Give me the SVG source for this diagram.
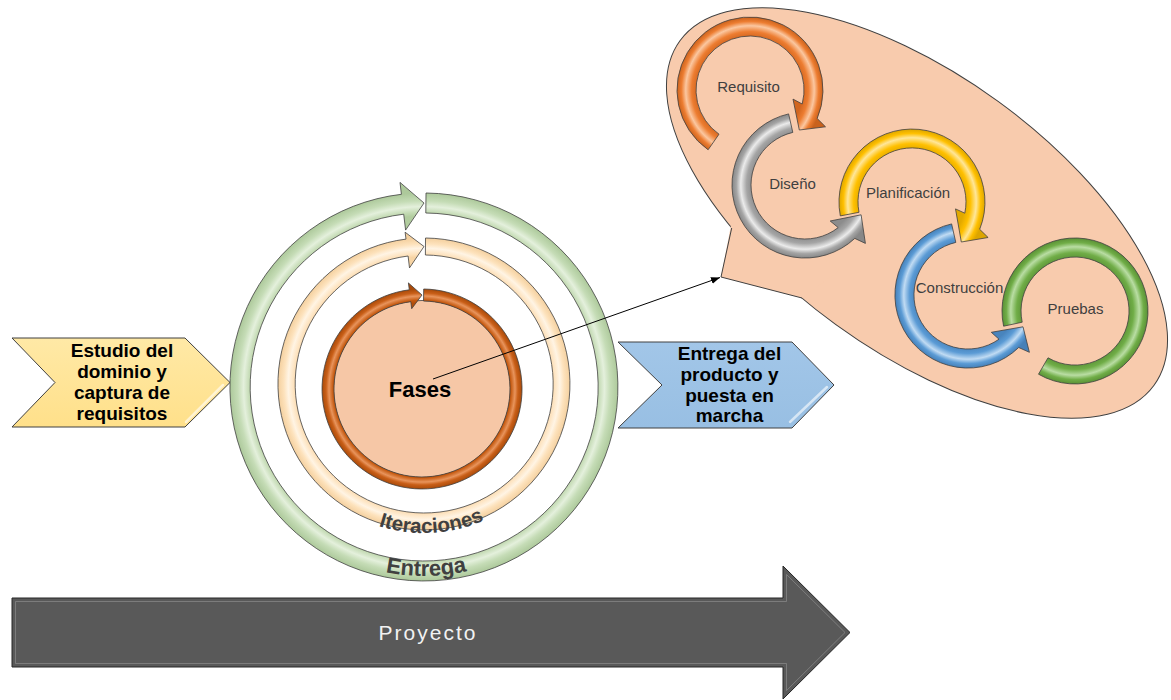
<svg xmlns="http://www.w3.org/2000/svg" width="1171" height="700" viewBox="0 0 1171 700">
<style>
  text { font-family: "Liberation Sans", Arial, sans-serif; }
  .ring { stroke: #404040; stroke-width: 0.8; stroke-linejoin: round; }
  .cyc { font-size: 15px; fill: #3f3f3f; text-anchor: middle; }
  .chev { font-size: 19px; font-weight: bold; fill: #000; text-anchor: middle; }
  .arcTxt { font-weight: bold; fill: #404040; text-anchor: middle; }
  .shape { stroke: #404040; stroke-width: 1; stroke-linejoin: miter; }
  .gloss { stroke: #ffffff; stroke-width: 2.5; stroke-linecap: round; opacity: 0.6; fill: none; }
</style>
<defs>
  <radialGradient id="gGreenBig" gradientUnits="userSpaceOnUse" cx="424" cy="387" r="194">
    <stop offset="0.88" stop-color="#b2cd9f"/>
    <stop offset="0.90" stop-color="#c3dab3"/>
    <stop offset="0.93" stop-color="#e4f0dc"/>
    <stop offset="0.96" stop-color="#c5dcb6"/>
    <stop offset="1" stop-color="#adc99b"/>
  </radialGradient>
  <radialGradient id="gPeach" gradientUnits="userSpaceOnUse" cx="424" cy="384" r="146">
    <stop offset="0.87" stop-color="#f7d4a4"/>
    <stop offset="0.89" stop-color="#fde1bb"/>
    <stop offset="0.93" stop-color="#fff4e4"/>
    <stop offset="0.96" stop-color="#fde2bc"/>
    <stop offset="1" stop-color="#f4d09f"/>
  </radialGradient>
  <radialGradient id="gOrangeBig" gradientUnits="userSpaceOnUse" cx="422" cy="389" r="100">
    <stop offset="0.86" stop-color="#b04e0c"/>
    <stop offset="0.89" stop-color="#c55a11"/>
    <stop offset="0.93" stop-color="#e8945c"/>
    <stop offset="0.96" stop-color="#c95f18"/>
    <stop offset="1" stop-color="#a84a0a"/>
  </radialGradient>
  <radialGradient id="gReq" gradientUnits="userSpaceOnUse" cx="750" cy="90" r="73">
    <stop offset="0.72" stop-color="#d1651f"/>
    <stop offset="0.80" stop-color="#ed7d31"/>
    <stop offset="0.88" stop-color="#fbc7a0"/>
    <stop offset="0.94" stop-color="#ed7d31"/>
    <stop offset="1" stop-color="#c9621d"/>
  </radialGradient>
  <radialGradient id="gDis" gradientUnits="userSpaceOnUse" cx="805" cy="185" r="73">
    <stop offset="0.72" stop-color="#8c8c8c"/>
    <stop offset="0.80" stop-color="#a5a5a5"/>
    <stop offset="0.88" stop-color="#ebebeb"/>
    <stop offset="0.94" stop-color="#a5a5a5"/>
    <stop offset="1" stop-color="#878787"/>
  </radialGradient>
  <radialGradient id="gPlan" gradientUnits="userSpaceOnUse" cx="912" cy="202" r="73">
    <stop offset="0.72" stop-color="#e2a900"/>
    <stop offset="0.80" stop-color="#ffc000"/>
    <stop offset="0.88" stop-color="#ffe699"/>
    <stop offset="0.94" stop-color="#ffc000"/>
    <stop offset="1" stop-color="#dca500"/>
  </radialGradient>
  <radialGradient id="gCons" gradientUnits="userSpaceOnUse" cx="968" cy="295" r="73">
    <stop offset="0.72" stop-color="#4884bd"/>
    <stop offset="0.80" stop-color="#5b9bd5"/>
    <stop offset="0.88" stop-color="#c0dbf3"/>
    <stop offset="0.94" stop-color="#5b9bd5"/>
    <stop offset="1" stop-color="#4580b8"/>
  </radialGradient>
  <radialGradient id="gPru" gradientUnits="userSpaceOnUse" cx="1075" cy="311" r="73">
    <stop offset="0.72" stop-color="#5c9338"/>
    <stop offset="0.80" stop-color="#70ad47"/>
    <stop offset="0.88" stop-color="#b9dda3"/>
    <stop offset="0.94" stop-color="#70ad47"/>
    <stop offset="1" stop-color="#5a9036"/>
  </radialGradient>
  <linearGradient id="gYellowChev" x1="0" y1="0" x2="0" y2="1">
    <stop offset="0" stop-color="#ffe9a6"/>
    <stop offset="1" stop-color="#ffe08a"/>
  </linearGradient>
  <linearGradient id="gBlueChev" x1="0" y1="0" x2="0" y2="1">
    <stop offset="0" stop-color="#a2c6e8"/>
    <stop offset="1" stop-color="#98bfe3"/>
  </linearGradient>
  <marker id="arrow" markerUnits="userSpaceOnUse" markerWidth="9" markerHeight="7" refX="9" refY="3.5" orient="auto">
    <path d="M0,0 L9,3.5 L0,7 Z" fill="#000"/>
  </marker>
  <path id="arcIter" d="M 275 384 A 149 149 0 0 0 573 384"/>
  <path id="arcEnt" d="M 235 387 A 189 189 0 0 0 613 387"/>
</defs>

<!-- Callout -->
<g id="callout">
  <ellipse cx="917" cy="213" rx="293" ry="138" transform="rotate(36 917 213)" fill="#f8cbad" stroke="#404040" stroke-width="1"/>
  <polygon points="733,215 721,277 802,298 840,270 780,230" fill="#f8cbad"/>
  <polyline points="731.7,228 721,277 802,298" fill="none" stroke="#404040" stroke-width="1"/>
</g>

<g id="pruebas">
  <path class="ring" fill="url(#gPru)" d="M 1003.6 326.2 A 73 73 0 1 1 1038.5 374.2 L 1048.0 357.8 A 54 54 0 1 0 1022.2 322.2 Z"/>
  <text class="cyc" x="1075.5" y="314">Pruebas</text>
</g>
<g id="construccion">
  <path class="ring" fill="url(#gCons)" d="M 951.6 223.9 A 73 73 0 1 0 1018.7 347.5 L 1029.4 352.3 L 1023.0 326.8 L 991.3 332.3 L 999.0 339.2 A 54 54 0 1 1 955.8 242.4 Z"/>
  <text class="cyc" x="959.5" y="293">Construcción</text>
</g>
<g id="planificacion">
  <path class="ring" fill="url(#gPlan)" d="M 840.3 215.9 A 73 73 0 1 1 979.7 229.3 L 988.1 237.5 L 961.3 242.0 L 955.5 208.9 L 964.8 213.2 A 54 54 0 1 0 859.0 212.3 Z"/>
  <text class="cyc" x="908" y="198">Planificación</text>
</g>
<g id="diseno">
  <path class="ring" fill="url(#gDis)" d="M 788.6 113.9 A 73 73 0 1 0 854.8 238.4 L 865.4 243.4 L 861.1 214.8 L 830.2 221.0 L 838.2 227.6 A 54 54 0 1 1 792.8 132.4 Z"/>
  <text class="cyc" x="792.5" y="189">Diseño</text>
</g>
<g id="requisito">
  <path class="ring" fill="url(#gReq)" d="M 708.1 149.8 A 73 73 0 1 1 817.2 118.5 L 825.5 126.8 L 799.3 130.0 L 793.0 99.1 L 802.2 104.0 A 54 54 0 1 0 719.0 134.2 Z"/>
  <text class="cyc" x="748.5" y="92">Requisito</text>
</g>

<!-- Left chevron -->
<g id="estudio">
  <polygon class="shape" points="12,338 185,338 230,382.5 185,427 12,427 55,382.5" fill="url(#gYellowChev)"/>
  <line class="gloss" x1="186" y1="422" x2="223" y2="385"/>
  <text class="chev" x="122" y="356.5">Estudio del</text>
  <text class="chev" x="122" y="377.5">dominio y</text>
  <text class="chev" x="122" y="399">captura de</text>
  <text class="chev" x="122" y="419.5">requisitos</text>
</g>

<!-- Right chevron -->
<g id="entrega-producto">
  <polygon class="shape" points="618,342 792,342 834,385 792,428 618,428 662,385" fill="url(#gBlueChev)"/>
  <line class="gloss" x1="790" y1="422" x2="827" y2="387"/>
  <text class="chev" x="729.5" y="359.5">Entrega del</text>
  <text class="chev" x="729.5" y="380.5">producto y</text>
  <text class="chev" x="729.5" y="401.5">puesta en</text>
  <text class="chev" x="729.5" y="421.5">marcha</text>
</g>

<!-- Concentric rings -->
<g id="entrega">
  <path class="ring" fill="url(#gGreenBig)" d="M 426.0 193.0 A 194 194 0 1 1 401.4 194.3 L 400.0 182.4 L 424 203 L 405.6 230.1 L 403.7 214.2 A 174 174 0 1 0 425.8 213.0 Z"/>
  <text class="arcTxt" font-size="22" fill="#4a4a4a"><textPath href="#arcEnt" startOffset="299">Entrega</textPath></text>
</g>
<g id="iteraciones">
  <path class="ring" fill="url(#gPeach)" d="M 425.5 238.0 A 146 146 0 1 1 406.0 239.1 L 405.1 232.2 L 424 246.5 L 409.5 267.9 L 408.1 256.0 A 129 129 0 1 0 425.4 255.0 Z"/>
  <text class="arcTxt" font-size="20.5"><textPath href="#arcIter" startOffset="242">Iteraciones</textPath></text>
</g>
<g id="fases">
  <circle cx="422" cy="389" r="88.5" fill="#f6c7a6" stroke="#404040" stroke-width="0.8"/>
  <path class="ring" fill="url(#gOrangeBig)" d="M 423.7 289.0 A 100 100 0 1 1 409.3 289.8 L 408.4 282.9 L 422 295 L 411.7 308.7 L 410.8 301.7 A 88 88 0 1 0 423.5 301.0 Z"/>
  <text x="420" y="397" font-size="22" font-weight="bold" fill="#000" text-anchor="middle">Fases</text>
</g>

<!-- Bottom arrow -->
<g id="proyecto">
  <polygon points="12,598 783,598 783,566 850,632.5 783,699 783,667 12,667" fill="#595959" stroke="#262626" stroke-width="1"/>
  <polygon points="15.5,601.5 786.5,601.5 786.5,574.5 845,632.5 786.5,690.5 786.5,663.5 15.5,663.5" fill="none" stroke="#8c8c8c" stroke-width="1" opacity="0.7"/>
  <text x="428" y="640" font-size="21" letter-spacing="2" fill="#f2f2f2" text-anchor="middle">Proyecto</text>
</g>

<!-- Connectors -->
<g id="connectors">
  <line x1="433" y1="379" x2="720" y2="277.5" stroke="#000" stroke-width="1" marker-end="url(#arrow)"/>
</g>
</svg>
